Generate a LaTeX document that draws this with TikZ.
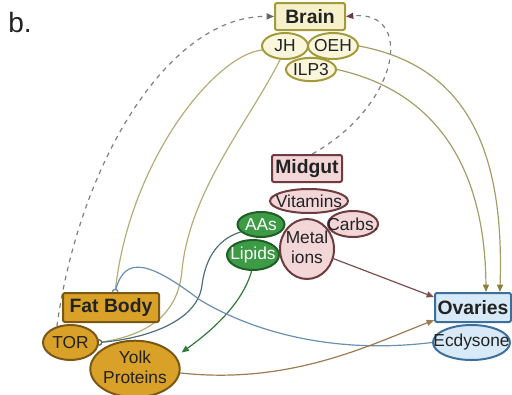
\documentclass[tikz,border=0pt]{standalone}
\usepackage{fontspec}
\setmainfont{Liberation Sans}
\usetikzlibrary{shapes.geometric,arrows.meta,backgrounds}
\definecolor{yelFill}{HTML}{F9F6DC}
\definecolor{brainFill}{HTML}{F6F1CB}
\definecolor{yelLine}{HTML}{A39A3C}
\definecolor{pinkFill}{HTML}{F2D6D8}
\definecolor{pinkLine}{HTML}{6E3B3F}
\definecolor{greenFill}{HTML}{3E9B45}
\definecolor{greenLine}{HTML}{1F5F27}
\definecolor{goldFill}{HTML}{D9A128}
\definecolor{goldLine}{HTML}{7B5716}
\definecolor{blueFill}{HTML}{D8EAF8}
\definecolor{blueLine}{HTML}{3C6F9C}
\definecolor{oliveE}{HTML}{B5AD78}
\definecolor{oliveA}{HTML}{A59D68}
\definecolor{oliveTip}{HTML}{8F8034}
\definecolor{grayE}{HTML}{808080}
\definecolor{grayTip}{HTML}{666666}
\definecolor{slateE}{HTML}{4F6F78}
\definecolor{greenE}{HTML}{2F7A3A}
\definecolor{blueE}{HTML}{6A8FB0}
\definecolor{brownE}{HTML}{7C4F4F}
\definecolor{yolkE}{HTML}{9C7C55}
\definecolor{txt}{HTML}{222222}
\newcommand{\ctx}[1]{\makebox[0pt]{#1}}
\newcommand{\ctwo}[2]{\makebox[0pt]{\begin{tabular}{@{}c@{}}#1\\#2\end{tabular}}}
\newcommand{\labfont}{\fontsize{13}{15}\selectfont}
\newcommand{\headfont}{\fontsize{14.5}{17}\selectfont\bfseries}
\begin{document}
\begin{tikzpicture}[x=0.75pt,y=-0.75pt,
  oval/.style={ellipse, line width=1.5pt, inner sep=0pt, font=\labfont, text=txt},
  box/.style={rectangle, rounded corners=1.5pt, line width=1.5pt, inner sep=0pt, font=\headfont, text=txt},
  yel/.style={oval, draw=yelLine, fill=yelFill},
  pnk/.style={oval, draw=pinkLine, fill=pinkFill},
  grn/.style={oval, draw=greenLine, fill=greenFill, text=white},
  gld/.style={oval, draw=goldLine, fill=goldFill},
  blu/.style={oval, draw=blueLine, fill=blueFill},
  conn/.style={line width=0.9pt},
  ctip/.style={conn, -{Circle[open,length=5pt,width=5pt]}, shorten >=-2.5pt},
  atip/.style={conn, -{Triangle[length=5.5pt,width=4.5pt,color=#1,fill=#1]}},
  dsh/.style={conn, color=grayE, dash pattern=on 3.5pt off 3.5pt}
]
\useasboundingbox (0,0) rectangle (512,394);

\node[font=\fontsize{21}{24}\selectfont, text=txt] (lbl) at (20,22) {b.};

% Brain
\node[box, draw=yelLine, fill=brainFill, minimum width=52.5pt, minimum height=20.25pt] (brain) at (310,16.5) {Brain};
\node[yel, minimum width=34.5pt, minimum height=19.5pt] (jh) at (285,46) {\ctx{JH}};
\node[yel, minimum width=37.5pt, minimum height=19.5pt] (oeh) at (333,46) {\ctx{OEH}};
\node[yel, minimum width=37.5pt, minimum height=17.5pt] (ilp) at (311,69.5) {\ctx{ILP3}};

% Midgut
\node[box, draw=pinkLine, fill=pinkFill, minimum width=52.5pt, minimum height=20.25pt] (midgut) at (307,168.5) {Midgut};
\node[pnk, minimum width=58.5pt, minimum height=18pt] (vit) at (309,201) {\ctx{Vitamins}};
\node[pnk, minimum width=37.5pt, minimum height=19.5pt] (carbs) at (353,224) {\ctx{Carbs.}};
\node[grn, minimum width=35.25pt, minimum height=18.75pt] (aas) at (261,224.5) {\ctx{AAs}};
\node[grn, minimum width=39pt, minimum height=22.5pt] (lipids) at (253,255) {\ctx{Lipids}};
\node[pnk, minimum width=40.5pt, minimum height=45pt] (metal) at (307,249) {\ctwo{Metal}{ions}};

% Fat body
\node[box, draw=goldLine, fill=goldFill, minimum width=72pt, minimum height=21.75pt] (fatbody) at (111,307.5) {Fat Body};
\node[gld, minimum width=41.25pt, minimum height=26.25pt] (tor) at (70.5,342.5) {\ctx{TOR}};
\node[gld, minimum width=67pt, minimum height=37.5pt] (yolk) at (135,369) {\ctwo{Yolk}{Proteins}};

% Ovaries
\node[box, draw=blueLine, fill=blueFill, minimum width=57pt, minimum height=21.75pt] (ovaries) at (473,307.5) {Ovaries};
\node[blu, minimum width=57.75pt, minimum height=26.25pt] (ecd) at (471.5,342.5) {\ctx{Ecdysone}};

\begin{scope}[on background layer]
% dashed feedback to brain
\draw[dsh, -{Triangle[length=5.5pt,width=4.5pt,color=grayTip,fill=grayTip]}]
  (tor.130) .. controls (80,160) and (170,15) .. (brain.west);
\draw[dsh, -{Triangle[length=5.5pt,width=4.5pt,color=pinkLine,fill=pinkLine]}]
  (midgut.70) .. controls (400,105) and (415,10) .. (brain.east);

% brain outputs
\draw[ctip, color=oliveE] (jh.190) .. controls (215,55) and (130,160) .. (fatbody.75);
\draw[ctip, color=oliveE] (jh.250) .. controls (250,120) and (190,190) .. (182,270)
  .. controls (178,320) and (140,336) .. (tor.east);
\draw[atip=oliveTip, color=oliveA] (ilp.east) .. controls (430,90) and (485,160) .. (ovaries.50);
\draw[atip=oliveTip, color=oliveA] (oeh.east) .. controls (460,65) and (505,140) .. (ovaries.30);

% midgut outputs
\draw[ctip, color=slateE] (aas.200) .. controls (215,240) and (205,262) .. (202,285)
  .. controls (198,320) and (150,338) .. (tor.east);
\draw[atip=greenE, color=greenE, shorten >=5pt] (lipids.265) .. controls (242,305) and (210,332) .. (yolk.17);
\draw[atip=brownE, color=brownE] (metal.-20) -- (ovaries.165);

% ecdysone and yolk
\draw[ctip, color=blueE] (ecd.west) .. controls (330,355) and (250,330) .. (200,300)
  .. controls (150,262) and (125,255) .. (fatbody.75);
\draw[atip=yolkE, color=yolkE] (yolk.-5) .. controls (290,385) and (370,345) .. (ovaries.198);
\end{scope}
\end{tikzpicture}
\end{document}
